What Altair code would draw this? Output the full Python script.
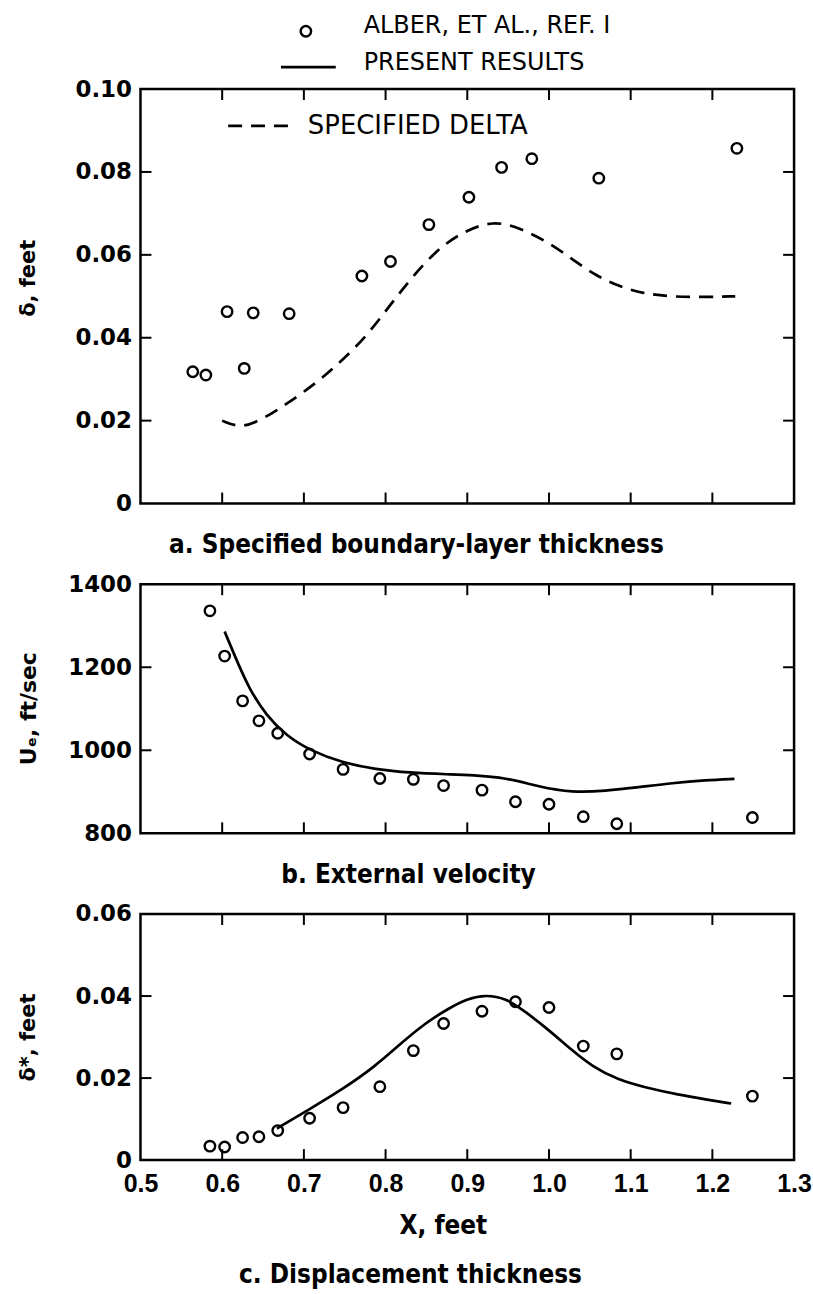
import altair as alt
import pandas as pd

# ---------------- data ----------------
# Panel a: boundary-layer thickness
a_obs_x = [0.564, 0.580, 0.606, 0.627, 0.638, 0.682, 0.771, 0.806, 0.853, 0.902, 0.942, 0.979, 1.061, 1.230]
a_obs_y = [0.0318, 0.0310, 0.0463, 0.0326, 0.0460, 0.0458, 0.0549, 0.0584, 0.0673, 0.0739, 0.0811, 0.0832, 0.0785, 0.0857]
a_spec_x = [0.600, 0.623, 0.650, 0.679, 0.716, 0.744, 0.777, 0.806, 0.830, 0.859, 0.891, 0.933, 0.968, 0.997,
            1.029, 1.058, 1.087, 1.115, 1.148, 1.189, 1.228]
a_spec_y = [0.0200, 0.0181, 0.0204, 0.0240, 0.0292, 0.0340, 0.0404, 0.0480, 0.0540, 0.0605, 0.0653, 0.0685, 0.0661,
            0.0633, 0.0589, 0.0549, 0.0523, 0.0507, 0.0499, 0.0498, 0.0500]

# Stations of the Alber data in panels b and c
bc_obs_x = [0.585, 0.603, 0.625, 0.645, 0.668, 0.707, 0.748, 0.793, 0.834, 0.871, 0.918, 0.959, 1.000, 1.042, 1.083, 1.249]

# Panel b: external velocity
b_obs_y = [1336, 1227, 1119, 1071, 1041, 991, 954, 932, 930, 915, 904, 876, 870, 840, 823, 838]
b_calc_x = [0.603, 0.617, 0.633, 0.654, 0.678, 0.707, 0.747, 0.788, 0.829, 0.878, 0.906, 0.947, 0.988, 1.028,
            1.069, 1.110, 1.151, 1.192, 1.227]
b_calc_y = [1286, 1220, 1148, 1084, 1036, 1000, 970, 954, 946, 942, 940, 934, 912, 898, 902, 911, 921, 928, 931]

# Panel c: displacement thickness
c_obs_y = [0.0034, 0.0032, 0.0055, 0.0057, 0.0072, 0.0102, 0.0128, 0.0179, 0.0267, 0.0333, 0.0363, 0.0386,
           0.0372, 0.0278, 0.0259, 0.0156]
c_calc_x = [0.667, 0.705, 0.746, 0.787, 0.819, 0.848, 0.877, 0.901, 0.922, 0.947, 0.971, 1.000, 1.028, 1.053,
            1.085, 1.118, 1.159, 1.192, 1.223]
c_calc_y = [0.0077, 0.0122, 0.0171, 0.0228, 0.0285, 0.0333, 0.0370, 0.0394, 0.0403, 0.0395, 0.0362, 0.0317,
            0.0268, 0.0228, 0.0195, 0.0177, 0.0159, 0.0148, 0.0138]

# Axes
x_domain = [0.5, 1.3]
x_label_values = [0.5, 0.6, 0.7, 0.8, 0.9, 1.0, 1.1, 1.2, 1.3]
x_inner_ticks = [0.6, 0.7, 0.8, 0.9, 1.0, 1.1, 1.2]
a_domain = [0, 0.10]
a_label_values = [0, 0.02, 0.04, 0.06, 0.08, 0.10]
a_inner_ticks = [0.02, 0.04, 0.06, 0.08]
b_domain = [800, 1400]
b_label_values = [800, 1000, 1200, 1400]
b_inner_ticks = [1000, 1200]
c_domain = [0, 0.06]
c_label_values = [0, 0.02, 0.04, 0.06]
c_inner_ticks = [0.02, 0.04]

# ---------------- styling ----------------
W = 656
HA, HB, HC = 416, 250, 247
TICK = 11
NUM_FONT = "DejaVu Sans"
XNUM_FONT = "Liberation Sans"
CAP_FONT = "DejaVu Sans Condensed"
LEG_FONT = "DejaVu Sans"


def yaxis(values, expr):
    return alt.Axis(values=values, labelExpr=expr, ticks=False, tickSize=0, domain=False, grid=False,
                    title=None, labelFont=NUM_FONT, labelFontSize=23, labelFontWeight="bold",
                    labelColor="black", labelPadding=9, labelFlush=False, labelOverlap=False)


xaxis_c = alt.Axis(values=x_label_values, format=".1f", ticks=False, tickSize=0, domain=False, grid=False,
                   title=None, labelFont=XNUM_FONT, labelFontSize=25, labelFontWeight="bold",
                   labelColor="black", labelPadding=12, labelFlush=False, labelOverlap=False)


def X(field, axis):
    return alt.X(field, type="quantitative", scale=alt.Scale(domain=x_domain, nice=False, zero=False), axis=axis)


def Y(field, domain, axis):
    return alt.Y(field, type="quantitative", scale=alt.Scale(domain=domain, nice=False, zero=False), axis=axis)


def text(t, x, y, size, weight="normal", font=LEG_FONT, align="left", angle=0):
    return alt.Chart(pd.DataFrame({"t": [t]})).mark_text(
        align=align, baseline="middle", font=font, fontSize=size, fontWeight=weight,
        color="black", angle=angle).encode(x=alt.value(x), y=alt.value(y), text="t:N")


one = pd.DataFrame({"d": [0]})


def frame_ticks(H, domain, yvals, xaxis, yax):
    xt = pd.DataFrame({"x": x_inner_ticks})
    yt = pd.DataFrame({"y": yvals})
    top = alt.Chart(xt).mark_rule(color="black", strokeWidth=2).encode(
        x=X("x", xaxis), y=alt.value(0), y2=alt.value(TICK))
    bot = alt.Chart(xt).mark_rule(color="black", strokeWidth=2).encode(
        x=X("x", xaxis), y=alt.value(H - TICK), y2=alt.value(H))
    left = alt.Chart(yt).mark_rule(color="black", strokeWidth=2).encode(
        y=Y("y", domain, yax), x=alt.value(0), x2=alt.value(TICK))
    right = alt.Chart(yt).mark_rule(color="black", strokeWidth=2).encode(
        y=Y("y", domain, yax), x=alt.value(W - TICK), x2=alt.value(W))
    return [top, bot, left, right]


def points(xs, ys, domain, xaxis, yax):
    return alt.Chart(pd.DataFrame({"x": xs, "y": ys})).mark_point(
        shape="circle", filled=False, color="black", size=110, strokeWidth=2.4, opacity=1).encode(
        x=X("x", xaxis), y=Y("y", domain, yax))


def curve(xs, ys, domain, xaxis, yax, dash=None):
    kw = dict(color="black", strokeWidth=2.7, interpolate="basis")
    if dash:
        kw["strokeDash"] = dash
    return alt.Chart(pd.DataFrame({"x": xs, "y": ys})).mark_line(**kw).encode(
        x=X("x", xaxis), y=Y("y", domain, yax))


# ---------------- panel a ----------------
ya = yaxis(a_label_values, "datum.value == 0 ? '0' : format(datum.value, '.2f')")
panel_a = alt.layer(
    # page anchor (top-left corner of the figure)
    alt.Chart(one).mark_rule(opacity=0).encode(x=alt.value(-139), x2=alt.value(-128), y=alt.value(-85)),
    curve(a_spec_x, a_spec_y, a_domain, None, ya, dash=[14, 9]),
    points(a_obs_x, a_obs_y, a_domain, None, ya),
    *frame_ticks(HA, a_domain, a_inner_ticks, None, ya),
    # legend above the plot
    alt.Chart(one).mark_point(shape="circle", filled=False, color="black", size=110, strokeWidth=2.4,
                              opacity=1).encode(x=alt.value(166), y=alt.value(-58)),
    text("ALBER, ET AL., REF. I", 224, -63, 24),
    alt.Chart(one).mark_rule(color="black", strokeWidth=2.7).encode(
        x=alt.value(141), x2=alt.value(196), y=alt.value(-22)),
    text("PRESENT RESULTS", 224, -26, 24),
    # legend inside
    alt.Chart(one).mark_rule(color="black", strokeWidth=2.7, strokeDash=[14, 9]).encode(
        x=alt.value(88), x2=alt.value(148), y=alt.value(37)),
    text("SPECIFIED DELTA", 168, 37, 26),
    # axis title and caption
    text("δ, feet", -112, 190, 21, weight="bold", font=NUM_FONT, align="center", angle=270),
    text("a.  Specified boundary-layer thickness", 277, 458, 26, weight="bold", font=CAP_FONT, align="center"),
).properties(width=W, height=HA)

# ---------------- panel b ----------------
yb = yaxis(b_label_values, "format(datum.value, 'd')")
panel_b = alt.layer(
    curve(b_calc_x, b_calc_y, b_domain, None, yb),
    points(bc_obs_x, b_obs_y, b_domain, None, yb),
    *frame_ticks(HB, b_domain, b_inner_ticks, None, yb),
    text("Uₑ, ft/sec", -112, 125, 22, weight="bold", font=NUM_FONT, align="center", angle=270),
    text("b.  External velocity", 269, 292, 26, weight="bold", font=CAP_FONT, align="center"),
).properties(width=W, height=HB)

# ---------------- panel c ----------------
yc = yaxis(c_label_values, "datum.value == 0 ? '0' : format(datum.value, '.2f')")
panel_c = alt.layer(
    curve(c_calc_x, c_calc_y, c_domain, xaxis_c, yc),
    points(bc_obs_x, c_obs_y, c_domain, xaxis_c, yc),
    *frame_ticks(HC, c_domain, c_inner_ticks, xaxis_c, yc),
    text("δ*, feet", -112, 124, 21, weight="bold", font=NUM_FONT, align="center", angle=270),
    text("X, feet", 304, 313, 26, weight="bold", font=CAP_FONT, align="center"),
    text("c.  Displacement thickness", 271, 362, 26, weight="bold", font=CAP_FONT, align="center"),
).properties(width=W, height=HC)

chart = alt.vconcat(panel_a, panel_b, panel_c, spacing=81, bounds="flush").properties(
    padding=0
).configure_view(stroke="black", strokeWidth=2.5)

chart.save("out.html", embed_options={"renderer": "svg", "actions": False})
